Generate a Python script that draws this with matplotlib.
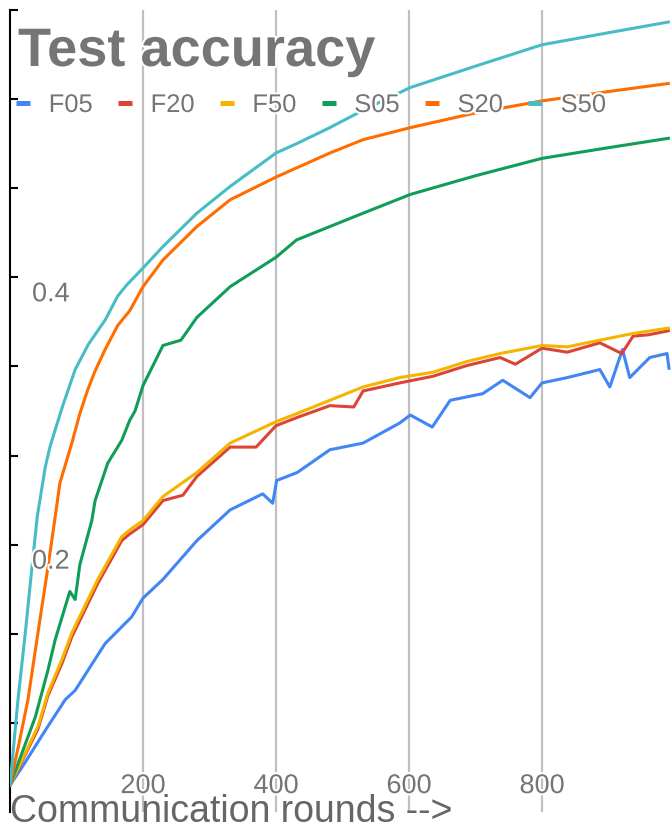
import numpy as np
import matplotlib.pyplot as plt
import matplotlib.patheffects as pe
from matplotlib.lines import Line2D

plt.rcParams['font.family'] = ['Liberation Sans', 'DejaVu Sans']

# rounds / test accuracy
f05_r = [0, 20, 53, 83, 98, 143, 183, 200, 230, 281, 331, 380, 395, 401, 432, 481, 531, 586, 602,
         635, 662, 711, 741, 782, 800, 838, 887, 902, 921, 932, 962, 988, 991]
f05_v = [0.020, 0.035, 0.061, 0.084, 0.091, 0.126, 0.146, 0.160, 0.174, 0.203, 0.226, 0.238, 0.231,
         0.248, 0.254, 0.271, 0.276, 0.291, 0.297, 0.288, 0.308, 0.313, 0.323, 0.310, 0.321, 0.325,
         0.331, 0.318, 0.346, 0.325, 0.340, 0.343, 0.332]

f20_r = [0, 42, 57, 78, 93, 132, 168, 180, 200, 230, 260, 281, 331, 370, 400, 431, 481, 517, 531,
         586, 636, 687, 737, 760, 800, 838, 887, 920, 937, 960, 990]
f20_v = [0.020, 0.062, 0.087, 0.111, 0.131, 0.171, 0.203, 0.208, 0.215, 0.233, 0.237, 0.251, 0.273,
         0.273, 0.289, 0.295, 0.304, 0.303, 0.315, 0.321, 0.326, 0.334, 0.340, 0.335, 0.347, 0.344,
         0.351, 0.343, 0.356, 0.357, 0.360]

f50_r = [0, 42, 57, 78, 93, 132, 168, 180, 200, 230, 281, 331, 400, 431, 481, 531, 586, 636, 687,
         737, 800, 838, 887, 937, 990]
f50_v = [0.020, 0.064, 0.089, 0.114, 0.134, 0.174, 0.206, 0.211, 0.218, 0.236, 0.254, 0.276, 0.292,
         0.298, 0.308, 0.318, 0.325, 0.329, 0.337, 0.343, 0.349, 0.348, 0.353, 0.358, 0.362]

s05_r = [0, 38, 57, 68, 90, 98, 105, 123, 128, 147, 168, 180, 188, 200, 230, 257, 281, 331, 400,
         431, 481, 531, 602, 700, 800, 900, 990]
s05_v = [0.020, 0.071, 0.106, 0.129, 0.165, 0.159, 0.185, 0.218, 0.233, 0.261, 0.278, 0.293, 0.300,
         0.319, 0.349, 0.353, 0.370, 0.393, 0.415, 0.428, 0.438, 0.448, 0.462, 0.476, 0.489, 0.497,
         0.504]

s20_r = [0, 13, 27, 42, 57, 68, 75, 93, 105, 117, 128, 143, 162, 180, 200, 230, 281, 331, 400, 481,
         531, 602, 700, 800, 900, 990]
s20_v = [0.020, 0.050, 0.084, 0.134, 0.183, 0.221, 0.246, 0.276, 0.298, 0.316, 0.330, 0.346, 0.364,
         0.375, 0.393, 0.413, 0.438, 0.458, 0.475, 0.493, 0.503, 0.512, 0.523, 0.532, 0.539, 0.545]

s50_r = [0, 6, 12, 23, 33, 41, 53, 60, 68, 80, 98, 118, 143, 162, 175, 200, 230, 281, 331, 400, 431,
         481, 531, 602, 700, 800, 900, 990]
s50_v = [0.020, 0.052, 0.084, 0.134, 0.183, 0.221, 0.258, 0.273, 0.286, 0.305, 0.331, 0.350, 0.368,
         0.386, 0.394, 0.407, 0.423, 0.448, 0.468, 0.493, 0.500, 0.512, 0.525, 0.542, 0.558, 0.574,
         0.583, 0.591]

names = ['F05', 'F20', 'F50', 'S05', 'S20', 'S50']
colors = ['#4285F4', '#DB4437', '#F4B400', '#0F9D58', '#FF6D01', '#46BDC6']
rounds = [f05_r, f20_r, f50_r, s05_r, s20_r, s50_r]
accs = [f05_v, f20_v, f50_v, s05_v, s20_v, s50_v]

xticks = [200, 400, 600, 800]
ylabel_vals = [0.4, 0.2]
ylabel_txt = ['0.4', '0.2']

W, H = 671, 831
fig = plt.figure(figsize=(W / 100, H / 100), dpi=100)
ax = fig.add_axes([10 / W, 19 / H, 661 / W, 802 / H])

gray = '#757575'
halo = [pe.withStroke(linewidth=3, foreground='white')]

for r, v, c in zip(rounds, accs, colors):
    ax.plot(r, v, color=c, lw=2.2, zorder=3)

ax.set_xlim(0, 994)
ax.set_ylim(0, 0.6)

for s in ['top', 'right', 'bottom']:
    ax.spines[s].set_visible(False)
ax.spines['left'].set_linewidth(1.5)

ax.set_xticks(xticks)
ax.tick_params(axis='x', length=0, pad=-28, labelsize=19.5, labelcolor=gray)
for lab in ax.get_xticklabels():
    lab.set_path_effects(halo)
ax.grid(axis='x', color='#c0c0c0', lw=1.6)

ax.set_yticks(np.arange(1, 10) * 0.6 / 9)
ax.set_yticklabels([])
ax.tick_params(axis='y', direction='in', length=6, width=1.5, color='black')

for val, txt in zip(ylabel_vals, ylabel_txt):
    ax.annotate(txt, xy=(0, val), xycoords=ax.get_yaxis_transform(),
                xytext=(22 * 0.72, -17 * 0.72), textcoords='offset points',
                ha='left', va='center', fontsize=19.5, color=gray,
                path_effects=halo, zorder=6)

handles = [Line2D([], [], color=c, lw=3.6, solid_capstyle='butt') for c in colors]
leg = ax.legend(handles, names, ncol=6, loc='upper left',
                bbox_to_anchor=(16 / W, 1 - 93 / H), bbox_transform=fig.transFigure,
                frameon=False, fontsize=18.4, handlelength=0.56, handletextpad=0.72,
                columnspacing=0.98, borderpad=0, borderaxespad=0, labelcolor=gray)
for t in leg.get_texts():
    t.set_path_effects(halo)
leg.set_zorder(7)

fig.text(18 / W, 1 - 66 / H, 'Test accuracy', fontsize=39, fontweight='bold',
         color=gray, va='baseline', path_effects=halo, zorder=10)
fig.text(10 / W, 1 / H, 'Communication rounds -->', fontsize=27, color='#666666',
         va='bottom')

fig.savefig('out.png', dpi=100)
